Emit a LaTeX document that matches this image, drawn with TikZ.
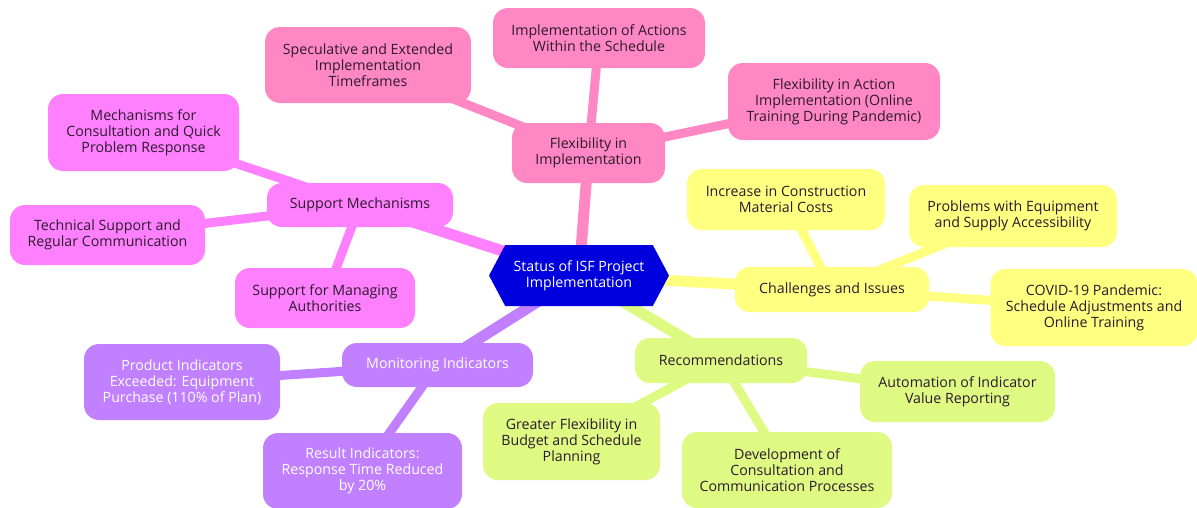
\documentclass[tikz,border=0pt]{standalone}
\usepackage{fontspec}
\setmainfont{Open Sans}
\usetikzlibrary{shapes.symbols,backgrounds}
\definecolor{hubblue}{RGB}{0,0,222}
\definecolor{flexpink}{RGB}{255,136,196}
\definecolor{supmag}{RGB}{255,128,255}
\definecolor{monpurple}{RGB}{192,128,255}
\definecolor{recgreen}{RGB}{222,250,130}
\definecolor{chalyellow}{RGB}{255,255,128}
\definecolor{ink}{RGB}{45,25,45}
\tikzset{
  box/.style={rounded corners=15pt, align=center, inner sep=0pt,
    font=\fontsize{14.2}{16}\selectfont, text=ink},
  flex/.style={box, fill=flexpink},
  sup/.style={box, fill=supmag},
  mon/.style={box, fill=monpurple, text=white},
  rec/.style={box, fill=recgreen},
  chal/.style={box, fill=chalyellow},
  link/.style={line width=11pt},
  twig/.style={line width=9pt},
}
\begin{document}
\begin{tikzpicture}[x=1pt,y=-1pt]
\useasboundingbox (0,0) rectangle (1197,507);

% central topic
\node[shape=signal, signal to=west and east, signal pointer angle=124,
  fill=hubblue, text=white, minimum width=180pt, minimum height=61pt,
  inner sep=0pt, align=center, font=\fontsize{14.2}{16}\selectfont]
  (hub) at (579,275.5) {Status of ISF Project\\Implementation};

% flexibility branch
\node[flex, minimum width=153pt, minimum height=60pt] (flx) at (588.5,153) {Flexibility in\\Implementation};
\node[flex, minimum width=212pt, minimum height=60pt] (flxa) at (599,38) {Implementation of Actions\\Within the Schedule};
\node[flex, minimum width=206pt, minimum height=76pt] (flxb) at (368,65) {Speculative and Extended\\Implementation\\Timeframes};
\node[flex, minimum width=212pt, minimum height=77pt] (flxc) at (834,101.5) {Flexibility in Action\\Implementation (Online\\Training During Pandemic)};

% support branch
\node[sup, minimum width=186pt, minimum height=44pt] (sup) at (360,205) {Support Mechanisms};
\node[sup, minimum width=191pt, minimum height=77pt] (supa) at (143.5,132.5) {Mechanisms for\\Consultation and Quick\\Problem Response};
\node[sup, minimum width=195pt, minimum height=60pt] (supb) at (107.5,235) {Technical Support and\\Regular Communication};
\node[sup, minimum width=180pt, minimum height=60pt] (supc) at (325,298) {Support for Managing\\Authorities};

% monitoring branch
\node[mon, minimum width=191pt, minimum height=44pt] (mon) at (437.5,365) {Monitoring Indicators};
\node[mon, minimum width=196pt, minimum height=76pt] (mona) at (182,382) {Product Indicators\\Exceeded: Equipment\\Purchase (110\% of Plan)};
\node[mon, minimum width=199pt, minimum height=76pt] (monb) at (362.5,471) {Result Indicators:\\Response Time Reduced\\by 20\%};

% recommendations branch
\node[rec, minimum width=172pt, minimum height=45pt] (rec) at (721,360.5) {Recommendations};
\node[rec, minimum width=177pt, minimum height=77pt] (reca) at (571.5,441.5) {Greater Flexibility in\\Budget and Schedule\\Planning};
\node[rec, minimum width=210pt, minimum height=76pt] (recb) at (787,470) {Development of\\Consultation and\\Communication Processes};
\node[rec, minimum width=195pt, minimum height=61pt] (recc) at (957.5,391.5) {Automation of Indicator\\Value Reporting};

% challenges branch
\node[chal, minimum width=194pt, minimum height=45pt] (chal) at (832,289.5) {Challenges and Issues};
\node[chal, minimum width=198pt, minimum height=61pt] (chala) at (786,199.5) {Increase in Construction\\Material Costs};
\node[chal, minimum width=208pt, minimum height=62pt] (chalb) at (1013,216) {Problems with Equipment\\and Supply Accessibility};
\node[chal, minimum width=207pt, minimum height=77pt] (chalc) at (1094,307.5) {COVID-19 Pandemic:\\Schedule Adjustments and\\Online Training};

% connectors behind the boxes
\begin{scope}[on background layer]
  \draw[link, flexpink] (hub.center) -- (flx.center);
  \draw[twig, flexpink] (flx.center) -- (flxa.center);
  \draw[twig, flexpink] (flx.center) -- (flxb.center);
  \draw[twig, flexpink] (flx.center) -- (flxc.center);

  \draw[link, supmag] (hub.center) -- (sup.center);
  \draw[twig, supmag] (sup.center) -- (supa.center);
  \draw[twig, supmag] (sup.center) -- (supb.center);
  \draw[twig, supmag] (sup.center) -- (supc.center);

  \draw[link, monpurple] (hub.center) -- (mon.center);
  \draw[twig, monpurple] (mon.center) -- (mona.center);
  \draw[twig, monpurple] (mon.center) -- (monb.center);

  \draw[link, recgreen] (hub.center) -- (rec.center);
  \draw[twig, recgreen] (rec.center) -- (reca.center);
  \draw[twig, recgreen] (rec.center) -- (recb.center);
  \draw[twig, recgreen] (rec.center) -- (recc.center);

  \draw[link, chalyellow] (hub.center) -- (chal.center);
  \draw[twig, chalyellow] (chal.center) -- (chala.center);
  \draw[twig, chalyellow] (chal.center) -- (chalb.center);
  \draw[twig, chalyellow] (chal.center) -- (chalc.center);
\end{scope}
\end{tikzpicture}
\end{document}
